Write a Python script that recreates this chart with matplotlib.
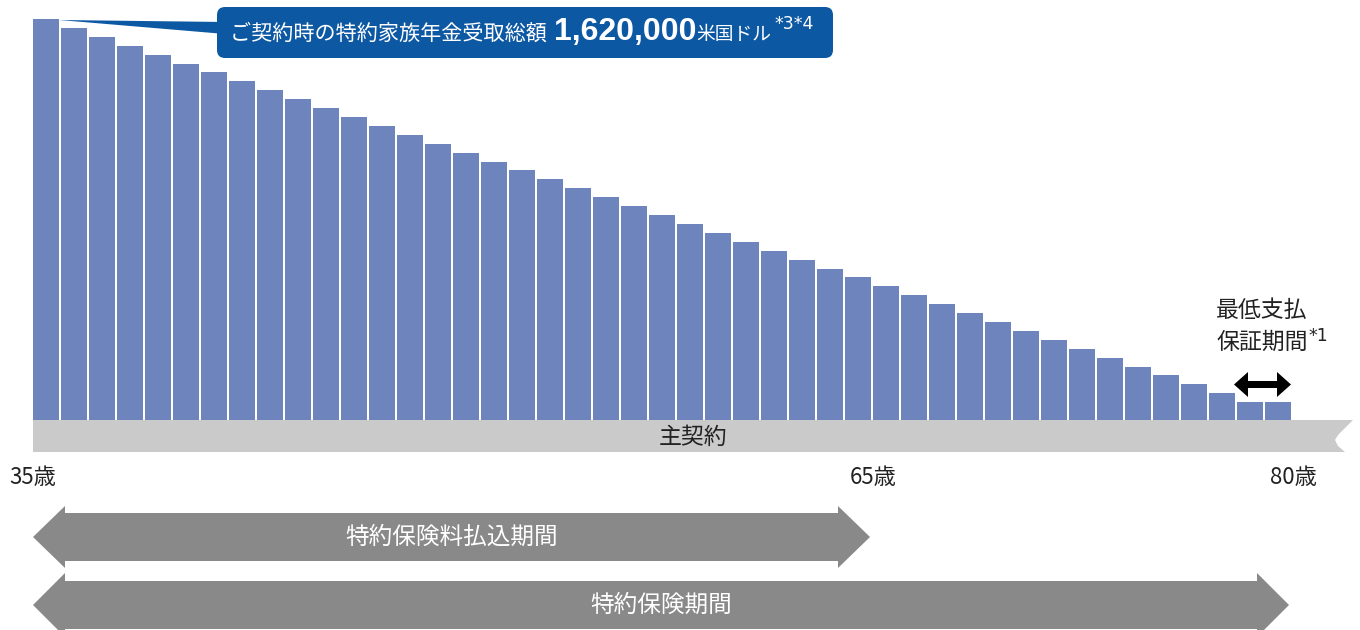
import matplotlib
matplotlib.use("Agg")
import matplotlib.pyplot as plt
from matplotlib.patches import FancyBboxPatch, Polygon

plt.rcParams["font.family"] = ["Noto Sans CJK JP", "DejaVu Sans"]

# 特約家族年金の受取総額（千米国ドル）、年齢ごと
ages = list(range(35, 80))
payout = [
    1620, 1584, 1548, 1512, 1476, 1440, 1404, 1368, 1332, 1296,
    1260, 1224, 1188, 1152, 1116, 1080, 1044, 1008, 972, 936,
    900, 864, 828, 792, 756, 720, 684, 648, 612, 576,
    540, 504, 468, 432, 396, 360, 324, 288, 252, 216,
    180, 144, 108, 72, 72,
]
tick_ages = [35, 65, 80]
tick_labels = ["35歳", "65歳", "80歳"]
premium_period = (35, 65)
coverage_period = (35, 80)
guarantee_period = (78, 80)

BAR = "#6e84bd"
BAND = "#c9cac9"
ARROW = "#898989"
BOX = "#0d58a3"
TEXT = "#222222"

W, H = 1360, 630
X0, PX_YR = 33, 28          # 35歳の左端と1年あたりのピクセル
BASE, VAL_PX = 420, 401 / 1620


def px(age):
    return X0 + (age - 35) * PX_YR


def block_arrow(x0, x1, yc, body, head, head_len):
    """Flat double-headed block arrow."""
    return [(x0, yc), (x0 + head_len, yc - head), (x0 + head_len, yc - body),
            (x1 - head_len, yc - body), (x1 - head_len, yc - head), (x1, yc),
            (x1 - head_len, yc + head), (x1 - head_len, yc + body),
            (x0 + head_len, yc + body), (x0 + head_len, yc + head)]


fig = plt.figure(figsize=(W / 100, H / 100), dpi=100)

ax = fig.add_axes([0, 0, 1, 1])
ax.set_xlim(35 + (0 - X0) / PX_YR, 35 + (W - X0) / PX_YR)
ax.set_ylim((BASE - H) / VAL_PX, BASE / VAL_PX)
ax.bar(ages, payout, width=26 / PX_YR, align="edge", color=BAR, zorder=2)
ax.axis("off")

ov = fig.add_axes([0, 0, 1, 1])
ov.set_xlim(0, W)
ov.set_ylim(H, 0)
ov.axis("off")

# 主契約の帯
band = [(px(35), BASE), (1353, BASE), (1338, 435), (1335, 440),
        (1338, 446), (1345, 452), (px(35), 452)]
ov.add_patch(Polygon(band, closed=True, color=BAND, lw=0))
ov.text((px(35) + 1353) / 2, 437, "主契約", ha="center", va="center",
        fontsize=16.5, color=TEXT)

# 年齢ラベル
for a, lab in zip(tick_ages, tick_labels):
    ov.text(px(a), 477, lab, ha="center", va="center", fontsize=16, color=TEXT)

# 期間の矢印
ov.add_patch(Polygon(block_arrow(px(premium_period[0]), px(premium_period[1]) - 3,
                                 537, 24, 31, 32), closed=True, color=ARROW, lw=0))
ov.text(452, 537, "特約保険料払込期間", ha="center", va="center",
        fontsize=17, color="white")
ov.add_patch(Polygon(block_arrow(px(coverage_period[0]), px(coverage_period[1]) - 4,
                                 605, 24, 32, 32), closed=True, color=ARROW, lw=0))
ov.text(661, 605, "特約保険期間", ha="center", va="center",
        fontsize=17, color="white")

# 最低支払保証期間
ov.add_patch(Polygon(block_arrow(px(guarantee_period[0]) - 3, px(guarantee_period[1]) - 2,
                                 384.5, 3.5, 12.5, 14), closed=True, color="black", lw=0))
ov.text(1216, 310, "最低支払", ha="left", va="center", fontsize=16.5, color=TEXT)
t = ov.text(1216, 342, "保証期間", ha="left", va="center", fontsize=16.5, color=TEXT)

# 吹き出し
ov.add_patch(FancyBboxPatch((217 + 8, 7 + 8), 616 - 16, 51 - 16,
                            boxstyle="round,pad=8", color=BOX, lw=0))
ov.add_patch(Polygon([(59, 20), (225, 22), (225, 34)], closed=True, color=BOX, lw=0))

fig.canvas.draw()
renderer = fig.canvas.get_renderer()
inv = ov.transData.inverted()


def right_edge(txt):
    bb = txt.get_window_extent(renderer)
    return inv.transform((bb.x1, bb.y0))[0]


ov.text(right_edge(t) + 1, 341, "*1", ha="left", va="baseline",
        fontsize=12.5, color=TEXT, family=["DejaVu Sans"])

x = 230
parts = [
    ("ご契約時の特約家族年金受取総額 ", 15.2, "normal", 40, "Noto Sans CJK JP", 2),
    ("1,620,000", 23, "bold", 40, "Liberation Sans", 0),
    ("米国ドル", 13.5, "normal", 40, "Noto Sans CJK JP", 3),
    ("*3*4", 12.5, "normal", 29, "DejaVu Sans", 0),
]
for s, size, weight, yb, fam, gap in parts:
    tx = ov.text(x, yb, s, ha="left", va="baseline", fontsize=size,
                 fontweight=weight, color="white", family=[fam, "DejaVu Sans"])
    x = right_edge(tx) + gap

fig.savefig("out.png", dpi=100)
